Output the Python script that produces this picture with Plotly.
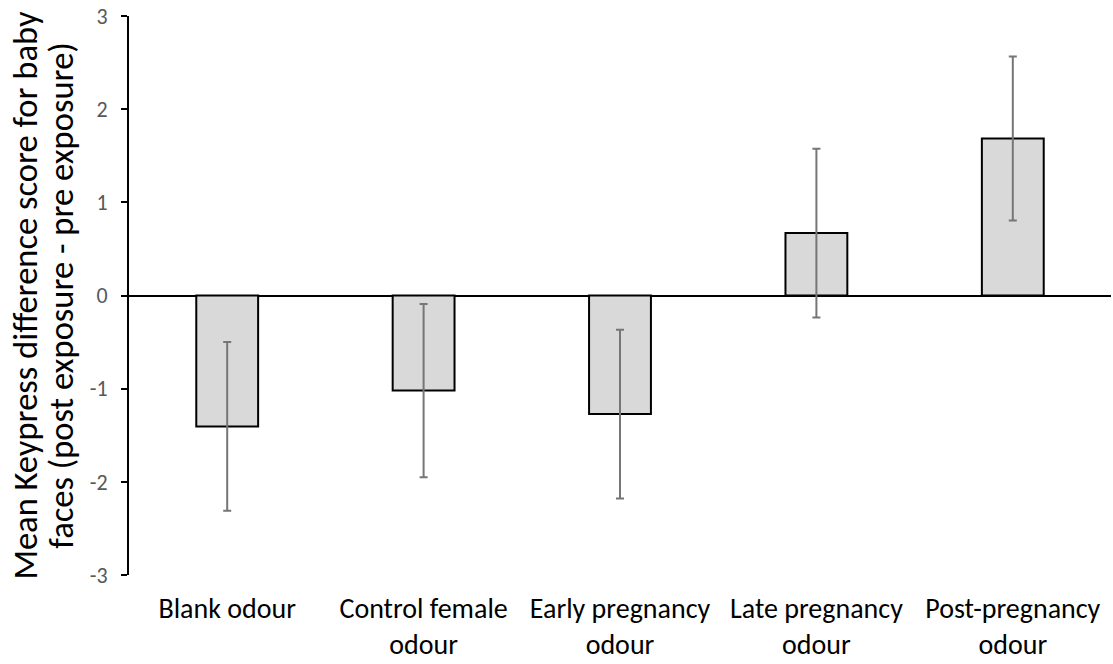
import plotly.graph_objects as go

categories = ["Blank odour", "Control female<br>odour", "Early pregnancy<br>odour",
              "Late pregnancy<br>odour", "Post-pregnancy<br>odour"]
means = [-1.405, -1.02, -1.273, 0.67, 1.685]
errors = [0.905, 0.93, 0.905, 0.905, 0.88]
y_ticks = [-3, -2, -1, 0, 1, 2, 3]
y_tick_labels = ["-3", "-2", "-1", "0", "1", "2", "3"]
title_lines = ["Mean Keypress difference score for baby",
               "faces (post exposure - pre exposure)"]

FONT = "Carlito, Lato, 'Open Sans', sans-serif"

title_text = "<br>".join(f"<span style='font-size:34.5px'>{t}</span>" for t in title_lines)

fig = go.Figure(go.Bar(
    x=categories, y=means,
    width=0.315,
    marker=dict(color="#d9d9d9", line=dict(color="black", width=2)),
    error_y=dict(type="data", array=errors, color="#767676", thickness=2, width=4),
))

fig.update_layout(
    width=1113, height=664,
    margin=dict(l=129, r=2, t=16, b=89),
    plot_bgcolor="white", paper_bgcolor="white",
    font=dict(family=FONT, color="black"),
    showlegend=False,
    xaxis=dict(showline=False, showgrid=False, ticks="", zeroline=False,
               automargin=False, ticklabelstandoff=14,
               tickfont=dict(size=28, color="black")),
    yaxis=dict(range=[-3, 3], tickvals=y_ticks, ticktext=y_tick_labels, showgrid=False,
               automargin=False,
               showline=True, linecolor="black", linewidth=2,
               ticks="outside", ticklen=6, tickwidth=2, tickcolor="black",
               zeroline=True, zerolinecolor="black", zerolinewidth=2,
               ticklabelstandoff=9, ticklabeloverflow="allow",
               tickfont=dict(size=22, color="#595959"),
               title=dict(text=title_text,
                          font=dict(size=28, color="black"), standoff=8)),
)

# remove the default page margin so the figure fills the window exactly
fig.write_html("out.html",
               config={"displayModeBar": False},
               post_script="document.body.style.margin='0';document.body.style.overflow='hidden';")
